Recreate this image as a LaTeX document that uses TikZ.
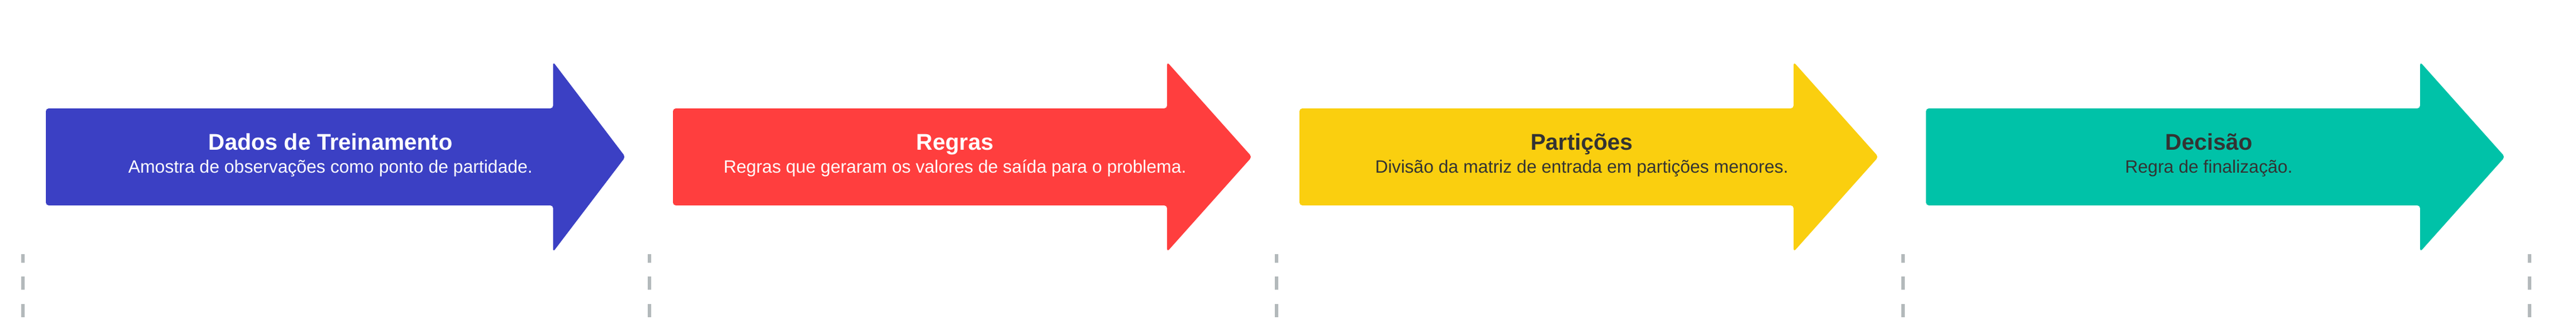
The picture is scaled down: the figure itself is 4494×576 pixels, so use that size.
\documentclass[tikz,border=0pt]{standalone}
\usepackage{fontspec}
\setmainfont{Liberation Sans}
\definecolor{cblue}{HTML}{3B40C4}
\definecolor{cred}{HTML}{FF3E3E}
\definecolor{cyellow}{HTML}{FACF0F}
\definecolor{cteal}{HTML}{00C2A8}
\definecolor{cdark}{HTML}{333333}
\definecolor{cdash}{HTML}{B3B9BB}
\tikzset{
  arrowshape/.style={rounded corners=5pt},
  ttl/.style={anchor=base, inner sep=0pt, font=\fontsize{39.7}{47}\selectfont\bfseries},
  subtxt/.style={anchor=base, inner sep=0pt, font=\fontsize{31.1}{37}\selectfont},
  sepline/.style={draw=cdash, line width=6pt, dash pattern=on 23pt off 24.3pt, dash phase=8pt}
}
\begin{document}
\begin{tikzpicture}[x=1pt, y=-1pt]
\useasboundingbox (0,0) rectangle (4494,576);
% separators
\foreach \xx/\nm in {40/d0, 1133.25/d1, 2226.5/d2, 3319.75/d3, 4413/d4} {
  \coordinate (\nm a) at (\xx,443);
  \coordinate (\nm b) at (\xx,553);
  \draw[sepline] (\nm a) -- (\nm b);
}
% arrow 1
\fill[cblue, arrowshape] (80,189) -- (965,189) -- (965,108) -- (1091,273.5) -- (965,439) -- (965,358) -- (80,358) -- cycle;
\node[ttl, text=white] (t1) at (576.5,261.7) {Dados de Treinamento};
\node[subtxt, text=white] (s1) at (576.5,301.7) {Amostra de observações como ponto de partidade.};
% arrow 2
\fill[cred, arrowshape] (1174,189) -- (2036,189) -- (2036,108) -- (2184,273.5) -- (2036,439) -- (2036,358) -- (1174,358) -- cycle;
\node[ttl, text=white] (t2) at (1666,261.7) {Regras};
\node[subtxt, text=white] (s2) at (1666,301.7) {Regras que geraram os valores de saída para o problema.};
% arrow 3
\fill[cyellow, arrowshape] (2267,189) -- (3129,189) -- (3129,108) -- (3277,273.5) -- (3129,439) -- (3129,358) -- (2267,358) -- cycle;
\node[ttl, text=cdark] (t3) at (2759.5,261.7) {Partições};
\node[subtxt, text=cdark] (s3) at (2759.5,301.7) {Divisão da matriz de entrada em partições menores.};
% arrow 4
\fill[cteal, arrowshape] (3360,189) -- (4222,189) -- (4222,108) -- (4370,273.5) -- (4222,439) -- (4222,358) -- (3360,358) -- cycle;
\node[ttl, text=cdark] (t4) at (3853.5,261.7) {Decisão};
\node[subtxt, text=cdark] (s4) at (3853.5,301.7) {Regra de finalização.};
\end{tikzpicture}
\end{document}
